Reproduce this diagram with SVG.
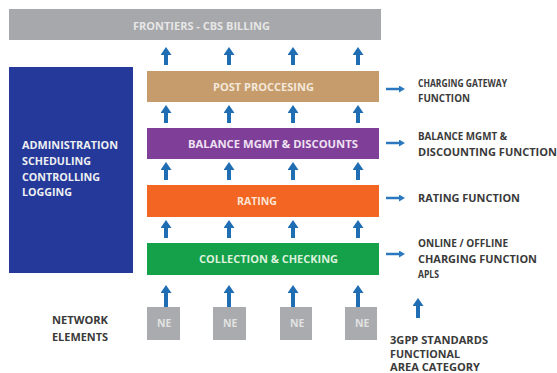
<svg xmlns="http://www.w3.org/2000/svg" width="557" height="373" viewBox="0 0 557 373">
<style>
text{font-family:"Open Sans","Liberation Sans",sans-serif;font-weight:700;font-size:10.5px}
.lt{fill:#eef0f2}
.dk{fill:#3a3a3a}
.up{stroke:#1f6db3;stroke-width:4;fill:none;marker-end:url(#hu)}
.rt{stroke:#2b78be;stroke-width:2.5;fill:none;marker-end:url(#hr)}
.ne{fill:#a9abae}
</style>
<defs>
<marker id="hu" markerUnits="userSpaceOnUse" markerWidth="8" markerHeight="11" refX="2" refY="5.5" orient="auto" viewBox="0 0 8 11">
<path d="M0,0 L8,5.5 L0,11 Z" fill="#1f6db3"/>
</marker>
<marker id="hr" markerUnits="userSpaceOnUse" markerWidth="6" markerHeight="7" refX="1" refY="3.5" orient="auto" viewBox="0 0 6 7">
<path d="M0,0 L6,3.5 L0,7 Z" fill="#2b78be"/>
</marker>
</defs>
<rect width="557" height="373" fill="#ffffff"/>

<g id="frontiers">
<rect x="9" y="9" width="372" height="31" fill="#a6a8ab"/>
<text x="133" y="29.5" textLength="137" lengthAdjust="spacingAndGlyphs" fill="#e6e6e6">FRONTIERS - CBS BILLING</text>
</g>

<g id="admin">
<rect x="9" y="67" width="124" height="206" fill="#25399a"/>
<text class="lt" x="22" y="149" textLength="96" lengthAdjust="spacingAndGlyphs">ADMINISTRATION</text>
<text class="lt" x="22" y="165" textLength="69" lengthAdjust="spacingAndGlyphs">SCHEDULING</text>
<text class="lt" x="22" y="181" textLength="78" lengthAdjust="spacingAndGlyphs">CONTROLLING</text>
<text class="lt" x="22" y="196" textLength="50" lengthAdjust="spacingAndGlyphs">LOGGING</text>
</g>

<g id="post">
<rect x="147" y="71" width="232" height="31" fill="#c69c6d"/>
<text x="213" y="91" textLength="101" lengthAdjust="spacingAndGlyphs" fill="#f4e8da">POST PROCCESING</text>
</g>

<g id="balance">
<rect x="147" y="128" width="232" height="31" fill="#7f3f98"/>
<text x="188" y="147.5" textLength="170" lengthAdjust="spacingAndGlyphs" fill="#efe2f4">BALANCE MGMT &amp; DISCOUNTS</text>
</g>

<g id="rating">
<rect x="147" y="185" width="232" height="32" fill="#f26522"/>
<text x="237" y="205" textLength="40" lengthAdjust="spacingAndGlyphs" fill="#fde3d2">RATING</text>
</g>

<g id="collection">
<rect x="147" y="243" width="232" height="32" fill="#15a04a"/>
<text x="199" y="262.5" textLength="139" lengthAdjust="spacingAndGlyphs" fill="#dcf2dc">COLLECTION &amp; CHECKING</text>
</g>

<g id="ne1"><rect class="ne" x="147" y="307" width="33" height="33"/><text x="157" y="327" font-size="9" fill="#e2e2e2">NE</text></g>
<g id="ne2"><rect class="ne" x="213" y="307" width="33" height="33"/><text x="223" y="327" font-size="9" fill="#e2e2e2">NE</text></g>
<g id="ne3"><rect class="ne" x="280" y="307" width="32" height="33"/><text x="290" y="327" font-size="9" fill="#e2e2e2">NE</text></g>
<g id="ne4"><rect class="ne" x="345" y="307" width="32" height="33"/><text x="355" y="327" font-size="9" fill="#e2e2e2">NE</text></g>

<g id="network-label">
<text class="dk" x="52" y="324" textLength="56" lengthAdjust="spacingAndGlyphs">NETWORK</text>
<text class="dk" x="52" y="340.5" textLength="56" lengthAdjust="spacingAndGlyphs">ELEMENTS</text>
</g>

<g id="label-cgf">
<text class="dk" x="418" y="87" textLength="89" lengthAdjust="spacingAndGlyphs">CHARGING GATEWAY</text>
<text class="dk" x="418" y="102" textLength="52" lengthAdjust="spacingAndGlyphs">FUNCTION</text>
</g>
<g id="label-bmd">
<text class="dk" x="418" y="140" textLength="89" lengthAdjust="spacingAndGlyphs">BALANCE MGMT &amp;</text>
<text class="dk" x="418" y="156" textLength="139" lengthAdjust="spacingAndGlyphs">DISCOUNTING FUNCTION</text>
</g>
<g id="label-rf">
<text class="dk" x="418" y="202" textLength="102" lengthAdjust="spacingAndGlyphs">RATING FUNCTION</text>
</g>
<g id="label-ocf">
<text class="dk" x="418" y="247" textLength="90" lengthAdjust="spacingAndGlyphs">ONLINE / OFFLINE</text>
<text class="dk" x="418" y="263" textLength="119" lengthAdjust="spacingAndGlyphs">CHARGING FUNCTION</text>
<text class="dk" x="418" y="278" textLength="21" lengthAdjust="spacingAndGlyphs">APLS</text>
</g>
<g id="label-3gpp">
<text class="dk" x="390" y="344" textLength="98" lengthAdjust="spacingAndGlyphs">3GPP STANDARDS</text>
<text class="dk" x="390" y="357.5" textLength="70" lengthAdjust="spacingAndGlyphs">FUNCTIONAL</text>
<text class="dk" x="390" y="370.5" textLength="90" lengthAdjust="spacingAndGlyphs">AREA CATEGORY</text>
</g>

<g id="connectors">
<line class="up" x1="166" y1="65" x2="166" y2="53"/>
<line class="up" x1="229" y1="65" x2="229" y2="53"/>
<line class="up" x1="293" y1="65" x2="293" y2="53"/>
<line class="up" x1="358" y1="65" x2="358" y2="53"/>

<line class="up" x1="166" y1="123" x2="166" y2="111"/>
<line class="up" x1="229" y1="123" x2="229" y2="111"/>
<line class="up" x1="293" y1="123" x2="293" y2="111"/>
<line class="up" x1="358" y1="123" x2="358" y2="111"/>

<line class="up" x1="166" y1="180" x2="166" y2="168"/>
<line class="up" x1="229" y1="180" x2="229" y2="168"/>
<line class="up" x1="293" y1="180" x2="293" y2="168"/>
<line class="up" x1="358" y1="180" x2="358" y2="168"/>

<line class="up" x1="166" y1="238" x2="166" y2="226"/>
<line class="up" x1="229" y1="238" x2="229" y2="226"/>
<line class="up" x1="293" y1="238" x2="293" y2="226"/>
<line class="up" x1="358" y1="238" x2="358" y2="226"/>

<line class="up" x1="166" y1="307" x2="166" y2="291"/>
<line class="up" x1="229" y1="307" x2="229" y2="291"/>
<line class="up" x1="293" y1="307" x2="293" y2="291"/>
<line class="up" x1="358" y1="307" x2="358" y2="291"/>

<line class="up" x1="418" y1="318" x2="418" y2="304"/>

<line class="rt" x1="386" y1="89" x2="400" y2="89"/>
<line class="rt" x1="386" y1="143" x2="400" y2="143"/>
<line class="rt" x1="386" y1="198" x2="400" y2="198"/>
<line class="rt" x1="386" y1="254" x2="400" y2="254"/>
</g>
</svg>
